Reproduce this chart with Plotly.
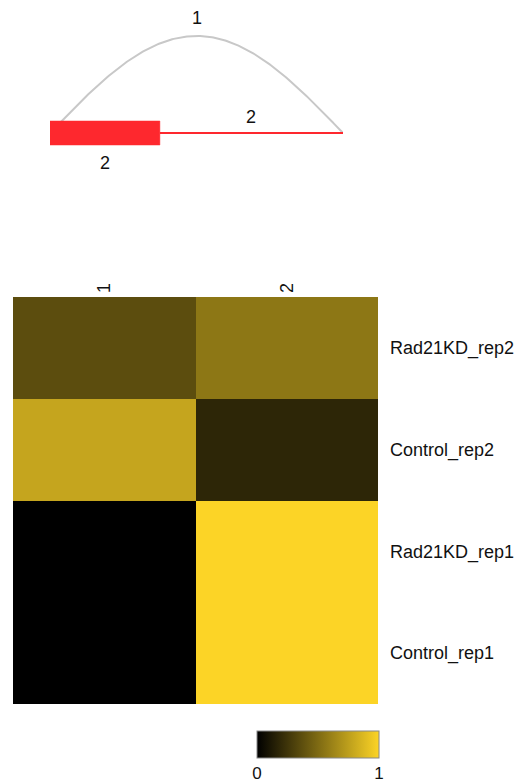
import numpy as np
import plotly.graph_objects as go

# ---- data ----
samples = ["Control_rep1", "Rad21KD_rep1", "Control_rep2", "Rad21KD_rep2"]
clusters = ["1", "2"]
values = [
    [0.00, 1.00],   # Control_rep1
    [0.00, 1.00],   # Rad21KD_rep1
    [0.78, 0.18],   # Control_rep2
    [0.365, 0.56],  # Rad21KD_rep2
]

# sashimi-like structure (arbitrary genomic units)
exon_start, exon_end = 0.0, 37.5
region_end = 100.0
junction_label = "1"
intron_label = "2"
exon_label = "2"

W, H = 526, 784
GOLD = "rgb(252,212,38)"
RED = "rgb(254,40,46)"
FONT = "Liberation Sans"
FS = 18

fig = go.Figure()

# ---- heatmap ----
fig.add_trace(go.Heatmap(
    z=values, x=clusters, y=samples,
    colorscale=[[0, "rgb(0,0,0)"], [1, GOLD]],
    zmin=0, zmax=1,
    xaxis="x", yaxis="y",
    colorbar=dict(
        orientation="h", lenmode="pixels", len=122, thickness=27,
        x=318 / W, xanchor="center", y=1 - 731 / H, yanchor="top",
        xpad=0, ypad=0,
        outlinewidth=1, outlinecolor="#888888",
        tickvals=[0, 1], ticktext=["0", "1"], ticks="",
        tickfont=dict(size=17, color="#111111", family=FONT),
    ),
    hoverinfo="skip",
))

# ---- top: arc, intron line, exon ----
t = np.linspace(0, 1, 200)
arc_x = exon_start + (region_end - exon_start) * t
arc_h = 97.0
arc_y = arc_h * np.sin(np.pi * t)
fig.add_trace(go.Scatter(x=arc_x, y=arc_y, mode="lines",
                         line=dict(color="rgb(200,200,200)", width=2),
                         xaxis="x2", yaxis="y2", hoverinfo="skip", showlegend=False))
fig.add_trace(go.Scatter(x=[exon_end, region_end], y=[0, 0], mode="lines",
                         line=dict(color=RED, width=2.2),
                         xaxis="x2", yaxis="y2", hoverinfo="skip", showlegend=False))
fig.add_trace(go.Scatter(x=[exon_start, exon_end, exon_end, exon_start, exon_start],
                         y=[-12, -12, 12, 12, -12], mode="lines", fill="toself",
                         fillcolor=RED, line=dict(color=RED, width=0.5),
                         xaxis="x2", yaxis="y2", hoverinfo="skip", showlegend=False))

mid = (exon_start + region_end) / 2
lab_font = dict(size=FS, color="#111111", family=FONT)
fig.add_annotation(x=mid, y=115, text=junction_label, xref="x2", yref="y2",
                   showarrow=False, font=lab_font)
fig.add_annotation(x=(exon_end + region_end) / 2, y=16, text=intron_label, xref="x2", yref="y2",
                   showarrow=False, font=lab_font)
fig.add_annotation(x=(exon_start + exon_end) / 2, y=-30, text=exon_label, xref="x2", yref="y2",
                   showarrow=False, font=lab_font)

fig.update_layout(
    width=W, height=H,
    margin=dict(l=0, r=0, t=0, b=0),
    paper_bgcolor="white", plot_bgcolor="white",
    font=dict(family=FONT, size=FS, color="#111111"),
    showlegend=False,
    xaxis=dict(domain=[13 / W, 378 / W], side="top", tickangle=-90,
               showgrid=False, zeroline=False, ticks="", ticklabelstandoff=3,
               tickfont=dict(size=FS), anchor="y"),
    yaxis=dict(domain=[1 - 704 / H, 1 - 297 / H], side="right",
               showgrid=False, zeroline=False, ticks="", ticklabelstandoff=11,
               tickfont=dict(size=FS), anchor="x"),
    xaxis2=dict(domain=[50 / W, 343 / W], range=[exon_start, region_end],
                visible=False, anchor="y2"),
    yaxis2=dict(domain=[1 - 170 / H, 1 - 10 / H], range=[-37, 123],
                visible=False, anchor="x2"),
)

fig.write_html("out.html", config={"displayModeBar": False},
               post_script="document.body.style.margin='0px';document.body.style.overflow='hidden';")
